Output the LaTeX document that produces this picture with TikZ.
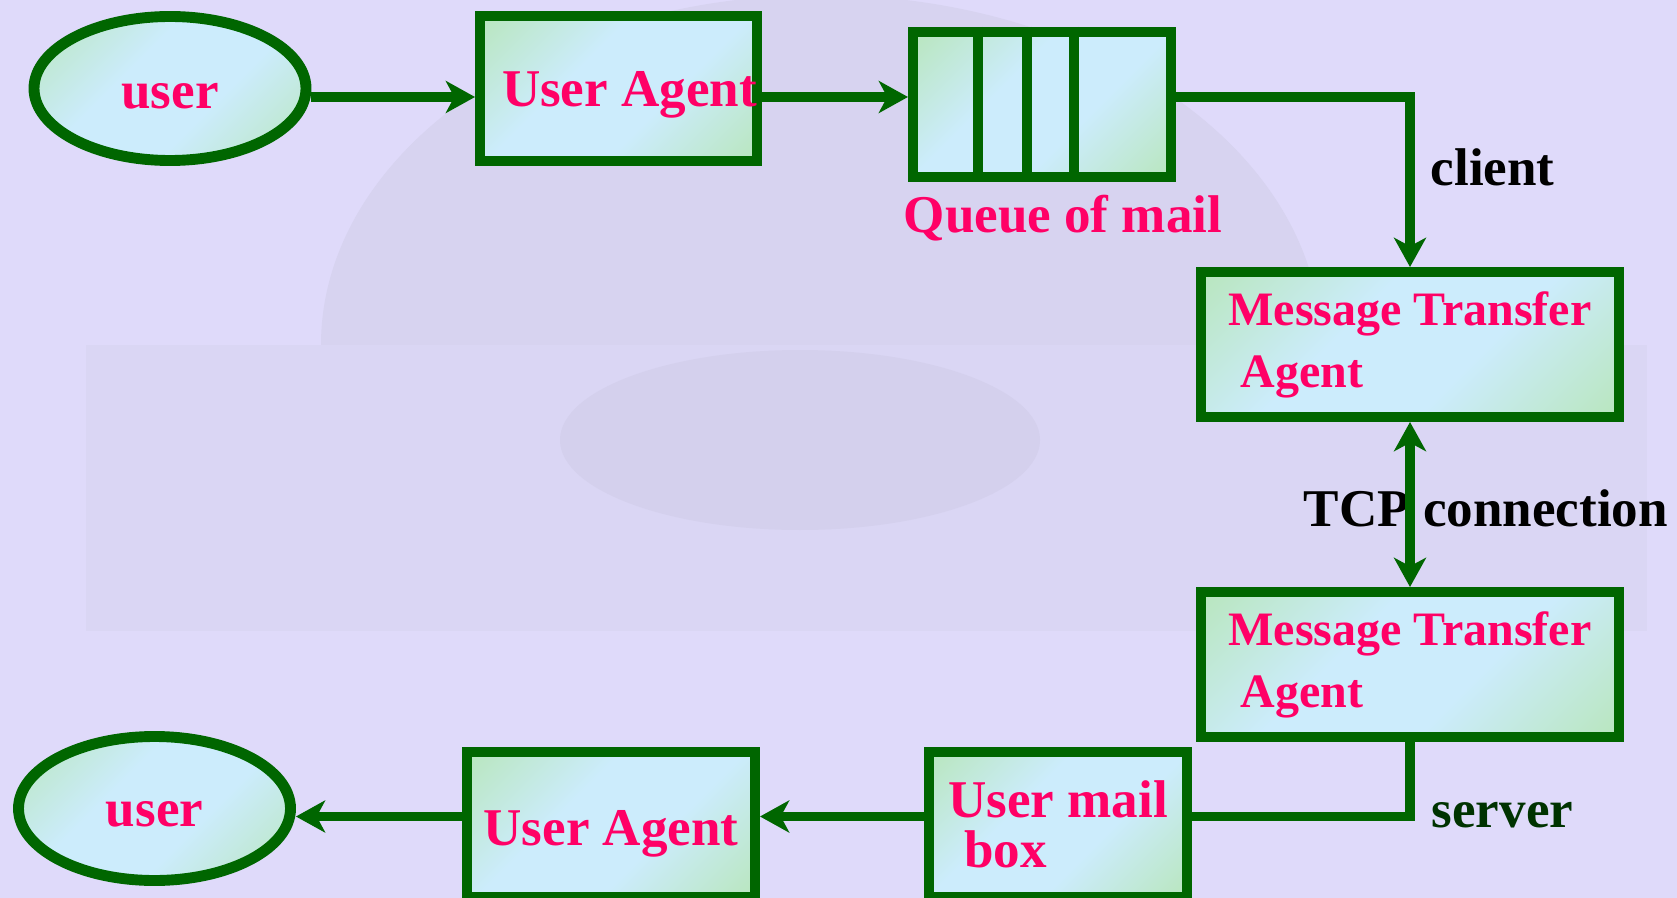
\documentclass[tikz,border=0pt]{standalone}
\usepackage{fontspec}
\setmainfont{Liberation Serif}
\usetikzlibrary{arrows.meta,shapes.geometric}

\definecolor{lavender}{RGB}{223,218,250}
\definecolor{photo}{RGB}{218,214,244}
\definecolor{dome}{RGB}{215,211,240}
\definecolor{fountain}{RGB}{212,208,237}
\definecolor{mtagreen}{RGB}{0,102,0}
\definecolor{mtapink}{RGB}{255,0,102}
\definecolor{fillgreen}{RGB}{184,230,188}
\definecolor{fillcyan}{RGB}{204,236,252}
\definecolor{servergreen}{RGB}{0,51,0}

\pgfdeclareverticalshading{panel}{100bp}{color(0bp)=(fillgreen); color(14bp)=(fillgreen);
  color(40bp)=(fillcyan); color(60bp)=(fillcyan); color(86bp)=(fillgreen); color(100bp)=(fillgreen)}

\tikzset{
  shade/.style={shading=panel, shading angle=45},
  box/.style={rectangle, draw=mtagreen, line width=2.85pt, shade, inner sep=0pt,
    minimum height=1.45cm, text=mtapink, font=\fontsize{15.1}{17}\selectfont\bfseries},
  usr/.style={ellipse, draw=mtagreen, line width=3.1pt, shade, inner sep=0pt, text depth=0pt,
    minimum width=2.72cm, minimum height=1.44cm, text=mtapink, font=\fontsize{15.1}{17}\selectfont\bfseries},
  lbl/.style={anchor=base west, inner sep=0pt, font=\fontsize{15.1}{17}\selectfont\bfseries},
  tip/.tip={Stealth[length=8.3pt, width=9.1pt, inset=2.4pt]},
  flow/.style={draw=mtagreen, line width=2.7pt, -tip},
  link/.style={draw=mtagreen, line width=2.7pt},
  wall/.style={draw=mtagreen, line width=2.85pt},
}

\begin{document}
\begin{tikzpicture}
        \useasboundingbox (0,0) rectangle (16.77,-8.98);
        \fill[lavender] (0,0) rectangle (16.77,-8.98);
        \fill[dome] (3.21,-3.45) arc[start angle=180, end angle=0, x radius=5.0, y radius=3.5] -- cycle;
        \fill[photo] (0.86,-3.45) rectangle (16.47,-6.31);
        \fill[fountain] (8.0,-4.4) circle[x radius=2.4, y radius=0.9];

        \coordinate (row1) at (0,-0.97);
        \coordinate (row2) at (0,-8.165);

        \node[usr, text height=0.41cm] (user1) at (1.70,-0.885) {user};
        \node[box, minimum width=2.73cm, text height=0.37cm, text depth=0pt] (ua1) at (6.185,-0.885) {\hspace*{0.22cm}User Agent};
        \node[box, minimum width=2.58cm] (queue) at (10.42,-1.045) {};
        \foreach \x in {9.78,10.27,10.74}{
          \coordinate (cell) at (\x,0);
          \draw[wall] (cell |- queue.north) -- (cell |- queue.south);
        }
        \node[lbl, text=mtapink] (qlabel) at (9.03,-2.33) {Queue of mail};

        \node[box, minimum width=4.18cm, align=left, font=\fontsize{13.66}{17.64}\selectfont\bfseries]
          (mta1) at (14.10,-3.445) {Message Transfer\\\hspace*{0.12cm}Agent};
        \node[box, minimum width=4.18cm, align=left, font=\fontsize{13.66}{17.64}\selectfont\bfseries]
          (mta2) at (14.10,-6.645) {Message Transfer\\\hspace*{0.12cm}Agent};

        \node[box, minimum width=2.58cm, align=left, font=\fontsize{15.1}{14.2}\selectfont\bfseries]
          (mbox) at (10.58,-8.245) {User mail\\\hspace*{0.16cm}box};
        \node[box, minimum width=2.88cm, text height=0.41cm, text depth=0pt] (ua2) at (6.11,-8.245) {User Agent};
        \node[usr, text height=0.35cm] (user2) at (1.545,-8.085) {user};

        \node[lbl] (client) at (14.30,-1.85) {client};
        \node[lbl] (tcp) at (13.03,-5.26) {TCP connection};
        \node[lbl, text=servergreen] (server) at (14.31,-8.27) {server};

        \draw[flow] (user1.east |- row1) -- (ua1.west |- row1);
        \draw[flow] (ua1.east |- row1) -- (queue.west |- row1);
        \draw[flow] (queue.east |- row1) -| (mta1.north);
        \draw[flow, tip-tip] (mta1.south) -- (mta2.north);
        \draw[link] (mta2.south) |- (mbox.east |- row2);
        \draw[flow] (mbox.west |- row2) -- (ua2.east |- row2);
        \draw[flow] (ua2.west |- row2) -- (user2.east |- row2);
      \end{tikzpicture}
\end{document}
